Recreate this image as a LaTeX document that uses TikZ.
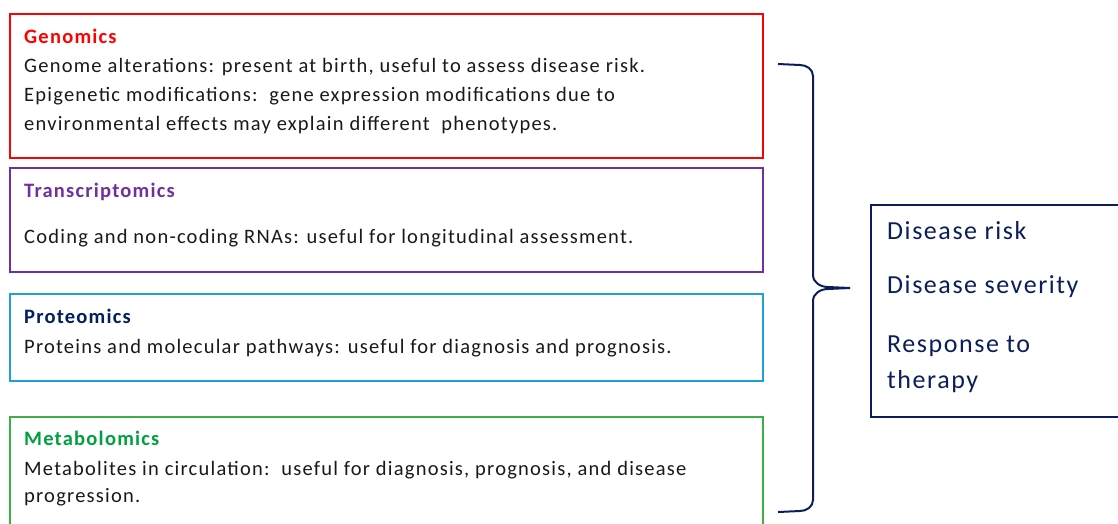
\documentclass[tikz,border=0pt]{standalone}
\usepackage{fontspec}
\setmainfont[LetterSpace=6]{Carlito}
\usetikzlibrary{calc}
\usetikzlibrary{positioning}
\definecolor{genred}{HTML}{FF0000}
\definecolor{transpurple}{HTML}{7030A0}
\definecolor{protblue}{HTML}{1F9FD9}
\definecolor{protnavy}{HTML}{002060}
\definecolor{metagreen}{HTML}{3CB043}
\definecolor{metatitle}{HTML}{00A040}
\definecolor{outnavy}{HTML}{0A1E5A}
\tikzset{>=stealth}
\tikzset{
  omicbox/.style={line width=2pt},
  omictitle/.style={anchor=base west, inner sep=0pt, font=\fontsize{20.5}{24}\selectfont\bfseries},
  omicbody/.style={anchor=base west, inner sep=0pt, text=black!90, font=\fontsize{20.5}{24}\selectfont},
  outtext/.style={anchor=base west, inner sep=0pt, text=outnavy, font=\fontsize{26}{31}\selectfont}
}

\begin{document}
\begin{tikzpicture}[x=1pt, y=-1pt]
          \useasboundingbox (0,0) rectangle (1118,523);
          % the four omics boxes
          \draw[omicbox, genred] (10,14) rectangle (763,158);
          \draw[omicbox, transpurple] (10,168) rectangle (763,272);
          \draw[omicbox, protblue] (10,294) rectangle (763,381);
          \draw[omicbox, metagreen] (10,417) rectangle (763,530);
          % genomics
          \node[omictitle, text=genred] (gentitle) at (24,43) {Genomics};
          \node[omicbody] (genA) at (24,72) {Genome alterations: present at birth, useful to assess disease risk.};
          \node[omicbody] (genB) at (24,101) {Epigenetic modifications:\ \ gene expression modifications due to};
          \node[omicbody] (genC) at (24,130) {environmental effects may explain different\ \ phenotypes.};
          % transcriptomics
          \node[omictitle, text=transpurple] (transtitle) at (24,197) {Transcriptomics};
          \node[omicbody] (transA) at (24,243) {Coding and non-coding RNAs: useful for longitudinal assessment.};
          % proteomics
          \node[omictitle, text=protnavy] (prottitle) at (24,323) {Proteomics};
          \node[omicbody] (protA) at (24,353) {Proteins and molecular pathways: useful for diagnosis and prognosis.};
          % metabolomics
          \node[omictitle, text=metatitle] (metatitle) at (24,445) {Metabolomics};
          \node[omicbody] (metaA) at (24,475) {Metabolites in circulation:\ \ useful for diagnosis, prognosis, and disease};
          \node[omicbody] (metaB) at (24,502) {progression.};
          % brace
          \coordinate (btop) at (778,64);
          \coordinate (bbot) at (778,512);
          \coordinate (btip) at (850,288);
          \draw[outnavy, line width=2pt, line join=round]
            (btop) -- (800,65) to[out=0, in=90] (813,76) -- (813,275)
            to[out=-90, in=180] (828,287) -- (btip);
          \draw[outnavy, line width=2pt, line join=round]
            (bbot) -- (800,511) to[out=0, in=-90] (813,500) -- (813,301)
            to[out=90, in=180] (828,289) -- (btip);
          % outcome box
          \draw[outnavy, line width=2pt] (871,205) rectangle (1125,417);
          \node[outtext] (risk) at (887,239) {Disease risk};
          \node[outtext] (severity) at (887,293) {Disease severity};
          \node[outtext] (respA) at (887,352) {Response to};
          \node[outtext] (respB) at (887,388) {therapy};
        \end{tikzpicture}
\end{document}
